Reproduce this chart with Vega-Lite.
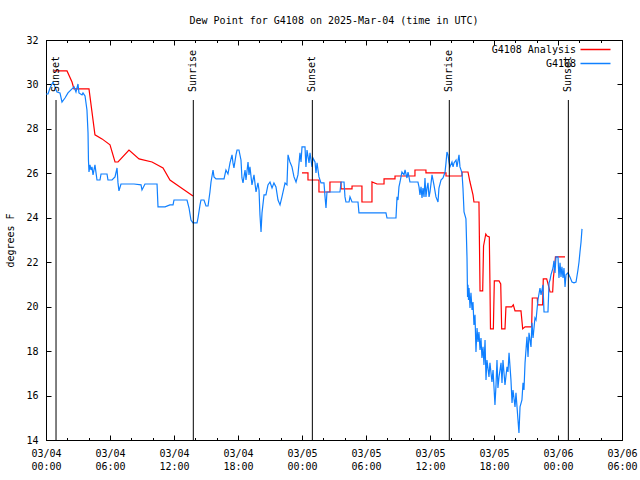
{
  "$schema": "https://vega.github.io/schema/vega-lite/v6.json",
  "width": 576,
  "height": 400,
  "autosize": {"type": "none"},
  "padding": {"left": 46, "top": 40, "right": 18, "bottom": 40},
  "background": "white",
  "title": {"text": "Dew Point for G4108 on 2025-Mar-04 (time in UTC)", "fontSize": 10, "fontWeight": "normal", "font": "DejaVu Sans Mono", "color": "black", "offset": 9, "anchor": "middle"},
  "config": {
    "font": "DejaVu Sans Mono",
    "view": {"stroke": "black", "strokeWidth": 1},
    "axis": {"grid": false, "labelFont": "DejaVu Sans Mono", "labelFontSize": 10, "labelColor": "black", "titleFont": "DejaVu Sans Mono", "titleFontSize": 10, "titleFontWeight": "normal", "titleColor": "black", "tickColor": "black", "domainColor": "black", "labelOverlap": false, "labelFlush": false}
  },
  "datasets": {
    "analysis": [
      {"hours_utc": 0.75, "dewpoint_f": 30.61}, {"hours_utc": 1.97, "dewpoint_f": 30.61}, {"hours_utc": 2.44, "dewpoint_f": 30.11}, {"hours_utc": 2.62, "dewpoint_f": 29.8}, {"hours_utc": 4.03, "dewpoint_f": 29.8},
      {"hours_utc": 4.59, "dewpoint_f": 27.73}, {"hours_utc": 5.25, "dewpoint_f": 27.55}, {"hours_utc": 6.0, "dewpoint_f": 27.28}, {"hours_utc": 6.47, "dewpoint_f": 26.51}, {"hours_utc": 6.75, "dewpoint_f": 26.51},
      {"hours_utc": 7.78, "dewpoint_f": 27.05}, {"hours_utc": 8.72, "dewpoint_f": 26.65}, {"hours_utc": 9.94, "dewpoint_f": 26.51}, {"hours_utc": 10.97, "dewpoint_f": 26.24}, {"hours_utc": 11.62, "dewpoint_f": 25.7},
      {"hours_utc": 12.56, "dewpoint_f": 25.39}, {"hours_utc": 13.78, "dewpoint_f": 24.98},
      {"hours_utc": 19.0, "dewpoint_f": null},
      {"hours_utc": 24.0, "dewpoint_f": 26.02}, {"hours_utc": 24.56, "dewpoint_f": 26.02}, {"hours_utc": 24.56, "dewpoint_f": 25.7}, {"hours_utc": 25.59, "dewpoint_f": 25.7}, {"hours_utc": 25.59, "dewpoint_f": 25.16},
      {"hours_utc": 26.62, "dewpoint_f": 25.16}, {"hours_utc": 26.62, "dewpoint_f": 25.61}, {"hours_utc": 27.66, "dewpoint_f": 25.61}, {"hours_utc": 27.66, "dewpoint_f": 25.3}, {"hours_utc": 28.69, "dewpoint_f": 25.3},
      {"hours_utc": 28.69, "dewpoint_f": 25.43}, {"hours_utc": 29.62, "dewpoint_f": 25.43}, {"hours_utc": 29.62, "dewpoint_f": 24.71}, {"hours_utc": 30.56, "dewpoint_f": 24.71}, {"hours_utc": 30.56, "dewpoint_f": 25.61},
      {"hours_utc": 31.03, "dewpoint_f": 25.52}, {"hours_utc": 31.69, "dewpoint_f": 25.52}, {"hours_utc": 31.69, "dewpoint_f": 25.75}, {"hours_utc": 32.72, "dewpoint_f": 25.75}, {"hours_utc": 32.72, "dewpoint_f": 25.88},
      {"hours_utc": 34.59, "dewpoint_f": 25.88}, {"hours_utc": 34.59, "dewpoint_f": 26.15}, {"hours_utc": 35.62, "dewpoint_f": 26.15}, {"hours_utc": 35.62, "dewpoint_f": 26.02}, {"hours_utc": 37.5, "dewpoint_f": 26.02},
      {"hours_utc": 37.5, "dewpoint_f": 25.88}, {"hours_utc": 39.0, "dewpoint_f": 25.88}, {"hours_utc": 39.0, "dewpoint_f": 26.06}, {"hours_utc": 39.56, "dewpoint_f": 26.06}, {"hours_utc": 39.75, "dewpoint_f": 25.61},
      {"hours_utc": 40.03, "dewpoint_f": 25.03}, {"hours_utc": 40.12, "dewpoint_f": 24.71}, {"hours_utc": 40.59, "dewpoint_f": 24.71}, {"hours_utc": 40.69, "dewpoint_f": 20.71}, {"hours_utc": 40.94, "dewpoint_f": 20.71},
      {"hours_utc": 41.02, "dewpoint_f": 22.73}, {"hours_utc": 41.23, "dewpoint_f": 23.27}, {"hours_utc": 41.35, "dewpoint_f": 23.18}, {"hours_utc": 41.56, "dewpoint_f": 23.14}, {"hours_utc": 41.62, "dewpoint_f": 21.07},
      {"hours_utc": 41.67, "dewpoint_f": 19.0}, {"hours_utc": 41.94, "dewpoint_f": 19.0}, {"hours_utc": 42.03, "dewpoint_f": 21.16}, {"hours_utc": 42.47, "dewpoint_f": 21.16}, {"hours_utc": 42.63, "dewpoint_f": 21.02},
      {"hours_utc": 42.72, "dewpoint_f": 19.0}, {"hours_utc": 43.03, "dewpoint_f": 19.0}, {"hours_utc": 43.12, "dewpoint_f": 19.99}, {"hours_utc": 43.66, "dewpoint_f": 19.99}, {"hours_utc": 43.81, "dewpoint_f": 20.08},
      {"hours_utc": 43.97, "dewpoint_f": 19.81}, {"hours_utc": 44.53, "dewpoint_f": 19.81}, {"hours_utc": 44.69, "dewpoint_f": 19.0}, {"hours_utc": 44.91, "dewpoint_f": 19.09}, {"hours_utc": 45.53, "dewpoint_f": 19.09},
      {"hours_utc": 45.59, "dewpoint_f": 20.39}, {"hours_utc": 46.06, "dewpoint_f": 20.39}, {"hours_utc": 46.09, "dewpoint_f": 20.08}, {"hours_utc": 46.56, "dewpoint_f": 20.08}, {"hours_utc": 46.62, "dewpoint_f": 21.25},
      {"hours_utc": 46.94, "dewpoint_f": 21.25}, {"hours_utc": 47.09, "dewpoint_f": 20.98}, {"hours_utc": 47.25, "dewpoint_f": 20.66}, {"hours_utc": 47.5, "dewpoint_f": 20.66}, {"hours_utc": 47.56, "dewpoint_f": 21.25},
      {"hours_utc": 47.72, "dewpoint_f": 22.0}, {"hours_utc": 47.76, "dewpoint_f": 22.24}, {"hours_utc": 48.66, "dewpoint_f": 22.24}
    ],
    "station": [
      {"hours_utc": 0.0, "dewpoint_f": 29.57}, {"hours_utc": 0.19, "dewpoint_f": 29.57}, {"hours_utc": 0.375, "dewpoint_f": 29.84}, {"hours_utc": 0.66, "dewpoint_f": 30.11}, {"hours_utc": 0.84, "dewpoint_f": 29.89},
      {"hours_utc": 1.03, "dewpoint_f": 29.66}, {"hours_utc": 1.31, "dewpoint_f": 29.62}, {"hours_utc": 1.5, "dewpoint_f": 29.21}, {"hours_utc": 1.78, "dewpoint_f": 29.39}, {"hours_utc": 2.06, "dewpoint_f": 29.62},
      {"hours_utc": 2.44, "dewpoint_f": 29.8}, {"hours_utc": 2.63, "dewpoint_f": 29.89}, {"hours_utc": 2.81, "dewpoint_f": 29.66}, {"hours_utc": 3.0, "dewpoint_f": 30.02}, {"hours_utc": 3.09, "dewpoint_f": 29.62},
      {"hours_utc": 3.375, "dewpoint_f": 29.53}, {"hours_utc": 3.47, "dewpoint_f": 29.62}, {"hours_utc": 3.66, "dewpoint_f": 29.48}, {"hours_utc": 3.84, "dewpoint_f": 28.85}, {"hours_utc": 3.94, "dewpoint_f": 27.82},
      {"hours_utc": 3.98, "dewpoint_f": 26.6}, {"hours_utc": 4.03, "dewpoint_f": 26.06}, {"hours_utc": 4.125, "dewpoint_f": 26.38}, {"hours_utc": 4.22, "dewpoint_f": 26.15}, {"hours_utc": 4.31, "dewpoint_f": 26.29},
      {"hours_utc": 4.41, "dewpoint_f": 25.93}, {"hours_utc": 4.59, "dewpoint_f": 26.38}, {"hours_utc": 4.69, "dewpoint_f": 26.02}, {"hours_utc": 4.78, "dewpoint_f": 25.7}, {"hours_utc": 5.06, "dewpoint_f": 25.7},
      {"hours_utc": 5.16, "dewpoint_f": 25.97}, {"hours_utc": 5.72, "dewpoint_f": 25.97}, {"hours_utc": 5.81, "dewpoint_f": 25.7}, {"hours_utc": 6.19, "dewpoint_f": 25.7}, {"hours_utc": 6.47, "dewpoint_f": 25.84},
      {"hours_utc": 6.66, "dewpoint_f": 26.24}, {"hours_utc": 6.75, "dewpoint_f": 25.57}, {"hours_utc": 6.84, "dewpoint_f": 25.21}, {"hours_utc": 7.03, "dewpoint_f": 25.52}, {"hours_utc": 8.25, "dewpoint_f": 25.52},
      {"hours_utc": 8.91, "dewpoint_f": 25.48}, {"hours_utc": 9.0, "dewpoint_f": 25.25}, {"hours_utc": 9.28, "dewpoint_f": 25.52}, {"hours_utc": 10.41, "dewpoint_f": 25.52}, {"hours_utc": 10.5, "dewpoint_f": 24.49},
      {"hours_utc": 11.16, "dewpoint_f": 24.49}, {"hours_utc": 11.62, "dewpoint_f": 24.58}, {"hours_utc": 11.91, "dewpoint_f": 24.58}, {"hours_utc": 12.0, "dewpoint_f": 24.8}, {"hours_utc": 13.22, "dewpoint_f": 24.8},
      {"hours_utc": 13.41, "dewpoint_f": 24.44}, {"hours_utc": 13.59, "dewpoint_f": 23.9}, {"hours_utc": 13.78, "dewpoint_f": 23.77}, {"hours_utc": 14.16, "dewpoint_f": 23.77}, {"hours_utc": 14.25, "dewpoint_f": 23.99},
      {"hours_utc": 14.44, "dewpoint_f": 24.58}, {"hours_utc": 14.53, "dewpoint_f": 24.8}, {"hours_utc": 14.81, "dewpoint_f": 24.8}, {"hours_utc": 15.0, "dewpoint_f": 24.53}, {"hours_utc": 15.19, "dewpoint_f": 24.53},
      {"hours_utc": 15.37, "dewpoint_f": 25.16}, {"hours_utc": 15.47, "dewpoint_f": 25.61}, {"hours_utc": 15.66, "dewpoint_f": 26.15}, {"hours_utc": 15.75, "dewpoint_f": 25.84}, {"hours_utc": 15.94, "dewpoint_f": 25.75},
      {"hours_utc": 16.69, "dewpoint_f": 25.75}, {"hours_utc": 16.87, "dewpoint_f": 26.15}, {"hours_utc": 17.06, "dewpoint_f": 25.97}, {"hours_utc": 17.25, "dewpoint_f": 26.47}, {"hours_utc": 17.44, "dewpoint_f": 26.83},
      {"hours_utc": 17.53, "dewpoint_f": 26.47}, {"hours_utc": 17.62, "dewpoint_f": 26.24}, {"hours_utc": 17.81, "dewpoint_f": 26.83}, {"hours_utc": 17.91, "dewpoint_f": 27.05}, {"hours_utc": 18.09, "dewpoint_f": 27.05},
      {"hours_utc": 18.28, "dewpoint_f": 26.6}, {"hours_utc": 18.37, "dewpoint_f": 25.79}, {"hours_utc": 18.47, "dewpoint_f": 25.57}, {"hours_utc": 18.66, "dewpoint_f": 26.15}, {"hours_utc": 18.75, "dewpoint_f": 25.7},
      {"hours_utc": 18.94, "dewpoint_f": 26.51}, {"hours_utc": 19.03, "dewpoint_f": 25.93}, {"hours_utc": 19.12, "dewpoint_f": 26.29}, {"hours_utc": 19.31, "dewpoint_f": 25.48}, {"hours_utc": 19.5, "dewpoint_f": 25.93},
      {"hours_utc": 19.69, "dewpoint_f": 25.16}, {"hours_utc": 19.87, "dewpoint_f": 25.57}, {"hours_utc": 19.97, "dewpoint_f": 25.25}, {"hours_utc": 20.06, "dewpoint_f": 24.13}, {"hours_utc": 20.16, "dewpoint_f": 23.36},
      {"hours_utc": 20.25, "dewpoint_f": 24.22}, {"hours_utc": 20.44, "dewpoint_f": 25.03}, {"hours_utc": 20.62, "dewpoint_f": 25.03}, {"hours_utc": 20.81, "dewpoint_f": 25.48}, {"hours_utc": 21.0, "dewpoint_f": 25.61},
      {"hours_utc": 21.19, "dewpoint_f": 25.34}, {"hours_utc": 21.37, "dewpoint_f": 25.57}, {"hours_utc": 21.56, "dewpoint_f": 25.39}, {"hours_utc": 21.75, "dewpoint_f": 24.8}, {"hours_utc": 21.94, "dewpoint_f": 24.58},
      {"hours_utc": 22.12, "dewpoint_f": 24.94}, {"hours_utc": 22.41, "dewpoint_f": 25.57}, {"hours_utc": 22.59, "dewpoint_f": 25.48}, {"hours_utc": 22.69, "dewpoint_f": 26.83}, {"hours_utc": 22.87, "dewpoint_f": 26.51},
      {"hours_utc": 23.06, "dewpoint_f": 26.29}, {"hours_utc": 23.25, "dewpoint_f": 25.84}, {"hours_utc": 23.44, "dewpoint_f": 25.61}, {"hours_utc": 23.62, "dewpoint_f": 25.93}, {"hours_utc": 23.81, "dewpoint_f": 26.92},
      {"hours_utc": 23.91, "dewpoint_f": 26.51}, {"hours_utc": 24.0, "dewpoint_f": 27.19}, {"hours_utc": 24.28, "dewpoint_f": 27.19}, {"hours_utc": 24.37, "dewpoint_f": 26.29}, {"hours_utc": 24.47, "dewpoint_f": 27.05},
      {"hours_utc": 24.66, "dewpoint_f": 26.47}, {"hours_utc": 24.75, "dewpoint_f": 26.92}, {"hours_utc": 24.94, "dewpoint_f": 26.29}, {"hours_utc": 25.03, "dewpoint_f": 26.69}, {"hours_utc": 25.22, "dewpoint_f": 26.51},
      {"hours_utc": 25.31, "dewpoint_f": 26.02}, {"hours_utc": 25.41, "dewpoint_f": 26.47}, {"hours_utc": 25.59, "dewpoint_f": 25.84}, {"hours_utc": 25.78, "dewpoint_f": 25.57}, {"hours_utc": 26.06, "dewpoint_f": 25.57},
      {"hours_utc": 26.16, "dewpoint_f": 24.94}, {"hours_utc": 26.25, "dewpoint_f": 24.44}, {"hours_utc": 26.34, "dewpoint_f": 25.16}, {"hours_utc": 27.56, "dewpoint_f": 25.16}, {"hours_utc": 27.66, "dewpoint_f": 25.61},
      {"hours_utc": 27.94, "dewpoint_f": 25.61}, {"hours_utc": 28.03, "dewpoint_f": 24.94}, {"hours_utc": 28.12, "dewpoint_f": 24.71}, {"hours_utc": 28.41, "dewpoint_f": 24.71}, {"hours_utc": 28.5, "dewpoint_f": 24.94},
      {"hours_utc": 28.69, "dewpoint_f": 24.71}, {"hours_utc": 29.25, "dewpoint_f": 24.71}, {"hours_utc": 29.34, "dewpoint_f": 24.22}, {"hours_utc": 31.87, "dewpoint_f": 24.22}, {"hours_utc": 31.97, "dewpoint_f": 23.99},
      {"hours_utc": 32.81, "dewpoint_f": 23.99}, {"hours_utc": 32.91, "dewpoint_f": 24.94}, {"hours_utc": 33.0, "dewpoint_f": 24.8}, {"hours_utc": 33.09, "dewpoint_f": 25.39}, {"hours_utc": 33.19, "dewpoint_f": 25.61},
      {"hours_utc": 33.28, "dewpoint_f": 25.84}, {"hours_utc": 33.37, "dewpoint_f": 26.06}, {"hours_utc": 33.56, "dewpoint_f": 25.93}, {"hours_utc": 33.66, "dewpoint_f": 26.15}, {"hours_utc": 33.84, "dewpoint_f": 25.79},
      {"hours_utc": 33.94, "dewpoint_f": 26.06}, {"hours_utc": 34.03, "dewpoint_f": 25.84}, {"hours_utc": 34.12, "dewpoint_f": 25.61}, {"hours_utc": 34.87, "dewpoint_f": 25.61}, {"hours_utc": 34.97, "dewpoint_f": 25.39},
      {"hours_utc": 35.06, "dewpoint_f": 25.03}, {"hours_utc": 35.16, "dewpoint_f": 25.39}, {"hours_utc": 35.25, "dewpoint_f": 24.89}, {"hours_utc": 35.34, "dewpoint_f": 25.34}, {"hours_utc": 35.44, "dewpoint_f": 24.94},
      {"hours_utc": 35.53, "dewpoint_f": 25.79}, {"hours_utc": 35.62, "dewpoint_f": 24.94}, {"hours_utc": 35.72, "dewpoint_f": 25.34}, {"hours_utc": 35.81, "dewpoint_f": 25.57}, {"hours_utc": 35.91, "dewpoint_f": 24.94},
      {"hours_utc": 36.0, "dewpoint_f": 25.16}, {"hours_utc": 36.19, "dewpoint_f": 25.93}, {"hours_utc": 36.37, "dewpoint_f": 25.48}, {"hours_utc": 36.56, "dewpoint_f": 24.94}, {"hours_utc": 36.75, "dewpoint_f": 24.71},
      {"hours_utc": 36.84, "dewpoint_f": 25.34}, {"hours_utc": 37.03, "dewpoint_f": 25.7}, {"hours_utc": 37.22, "dewpoint_f": 25.79}, {"hours_utc": 37.41, "dewpoint_f": 26.06}, {"hours_utc": 37.5, "dewpoint_f": 26.47},
      {"hours_utc": 37.59, "dewpoint_f": 26.96}, {"hours_utc": 37.69, "dewpoint_f": 26.83}, {"hours_utc": 37.78, "dewpoint_f": 26.51}, {"hours_utc": 37.87, "dewpoint_f": 26.29}, {"hours_utc": 38.06, "dewpoint_f": 26.51},
      {"hours_utc": 38.16, "dewpoint_f": 26.29}, {"hours_utc": 38.25, "dewpoint_f": 26.47}, {"hours_utc": 38.44, "dewpoint_f": 26.6}, {"hours_utc": 38.53, "dewpoint_f": 26.29}, {"hours_utc": 38.72, "dewpoint_f": 26.83},
      {"hours_utc": 38.81, "dewpoint_f": 26.29}, {"hours_utc": 39.0, "dewpoint_f": 26.02}, {"hours_utc": 39.09, "dewpoint_f": 25.34}, {"hours_utc": 39.19, "dewpoint_f": 24.26}, {"hours_utc": 39.37, "dewpoint_f": 23.95},
      {"hours_utc": 39.47, "dewpoint_f": 22.19}, {"hours_utc": 39.52, "dewpoint_f": 20.44}, {"hours_utc": 39.56, "dewpoint_f": 20.98}, {"hours_utc": 39.61, "dewpoint_f": 20.3}, {"hours_utc": 39.66, "dewpoint_f": 20.84},
      {"hours_utc": 39.75, "dewpoint_f": 19.94}, {"hours_utc": 39.84, "dewpoint_f": 20.62}, {"hours_utc": 39.94, "dewpoint_f": 19.85}, {"hours_utc": 40.03, "dewpoint_f": 20.21}, {"hours_utc": 40.12, "dewpoint_f": 19.18},
      {"hours_utc": 40.22, "dewpoint_f": 19.63}, {"hours_utc": 40.31, "dewpoint_f": 17.96}, {"hours_utc": 40.41, "dewpoint_f": 19.04}, {"hours_utc": 40.5, "dewpoint_f": 18.41}, {"hours_utc": 40.59, "dewpoint_f": 18.86},
      {"hours_utc": 40.69, "dewpoint_f": 18.05}, {"hours_utc": 40.78, "dewpoint_f": 18.59}, {"hours_utc": 40.87, "dewpoint_f": 17.69}, {"hours_utc": 40.97, "dewpoint_f": 18.19}, {"hours_utc": 41.06, "dewpoint_f": 17.38},
      {"hours_utc": 41.16, "dewpoint_f": 18.5}, {"hours_utc": 41.25, "dewpoint_f": 16.7}, {"hours_utc": 41.34, "dewpoint_f": 17.6}, {"hours_utc": 41.53, "dewpoint_f": 16.84}, {"hours_utc": 41.62, "dewpoint_f": 17.47},
      {"hours_utc": 41.81, "dewpoint_f": 16.61}, {"hours_utc": 41.91, "dewpoint_f": 17.15}, {"hours_utc": 42.09, "dewpoint_f": 15.58}, {"hours_utc": 42.19, "dewpoint_f": 16.48}, {"hours_utc": 42.28, "dewpoint_f": 17.6},
      {"hours_utc": 42.37, "dewpoint_f": 16.34}, {"hours_utc": 42.47, "dewpoint_f": 16.84}, {"hours_utc": 42.66, "dewpoint_f": 17.47}, {"hours_utc": 42.75, "dewpoint_f": 16.57}, {"hours_utc": 42.84, "dewpoint_f": 17.6},
      {"hours_utc": 43.03, "dewpoint_f": 16.48}, {"hours_utc": 43.22, "dewpoint_f": 17.29}, {"hours_utc": 43.31, "dewpoint_f": 17.06}, {"hours_utc": 43.41, "dewpoint_f": 17.92}, {"hours_utc": 43.59, "dewpoint_f": 16.7},
      {"hours_utc": 43.69, "dewpoint_f": 15.67}, {"hours_utc": 43.78, "dewpoint_f": 16.25}, {"hours_utc": 43.97, "dewpoint_f": 15.49}, {"hours_utc": 44.06, "dewpoint_f": 16.12}, {"hours_utc": 44.25, "dewpoint_f": 14.9},
      {"hours_utc": 44.34, "dewpoint_f": 14.32}, {"hours_utc": 44.44, "dewpoint_f": 15.49}, {"hours_utc": 44.62, "dewpoint_f": 15.8}, {"hours_utc": 44.72, "dewpoint_f": 16.57}, {"hours_utc": 44.81, "dewpoint_f": 16.25},
      {"hours_utc": 44.91, "dewpoint_f": 17.47}, {"hours_utc": 45.09, "dewpoint_f": 18.64}, {"hours_utc": 45.19, "dewpoint_f": 17.74}, {"hours_utc": 45.28, "dewpoint_f": 18.82}, {"hours_utc": 45.47, "dewpoint_f": 18.19},
      {"hours_utc": 45.56, "dewpoint_f": 19.27}, {"hours_utc": 45.66, "dewpoint_f": 18.59}, {"hours_utc": 45.84, "dewpoint_f": 19.49}, {"hours_utc": 45.94, "dewpoint_f": 19.4}, {"hours_utc": 46.03, "dewpoint_f": 19.85},
      {"hours_utc": 46.12, "dewpoint_f": 20.3}, {"hours_utc": 46.31, "dewpoint_f": 20.84}, {"hours_utc": 46.41, "dewpoint_f": 20.53}, {"hours_utc": 46.59, "dewpoint_f": 20.98}, {"hours_utc": 46.69, "dewpoint_f": 19.76},
      {"hours_utc": 47.06, "dewpoint_f": 19.76}, {"hours_utc": 47.16, "dewpoint_f": 21.07}, {"hours_utc": 47.25, "dewpoint_f": 21.2}, {"hours_utc": 47.34, "dewpoint_f": 21.43}, {"hours_utc": 47.53, "dewpoint_f": 21.74},
      {"hours_utc": 47.62, "dewpoint_f": 22.06}, {"hours_utc": 47.72, "dewpoint_f": 21.52}, {"hours_utc": 47.81, "dewpoint_f": 22.24}, {"hours_utc": 48.0, "dewpoint_f": 22.24}, {"hours_utc": 48.09, "dewpoint_f": 21.29},
      {"hours_utc": 48.19, "dewpoint_f": 21.97}, {"hours_utc": 48.28, "dewpoint_f": 21.34}, {"hours_utc": 48.37, "dewpoint_f": 21.79}, {"hours_utc": 48.47, "dewpoint_f": 21.29}, {"hours_utc": 48.56, "dewpoint_f": 21.74},
      {"hours_utc": 48.66, "dewpoint_f": 20.89}, {"hours_utc": 48.75, "dewpoint_f": 21.43}, {"hours_utc": 48.94, "dewpoint_f": 21.52}, {"hours_utc": 49.12, "dewpoint_f": 21.34}, {"hours_utc": 49.31, "dewpoint_f": 21.11},
      {"hours_utc": 49.5, "dewpoint_f": 21.07}, {"hours_utc": 49.69, "dewpoint_f": 21.11}, {"hours_utc": 49.87, "dewpoint_f": 21.65}, {"hours_utc": 49.97, "dewpoint_f": 22.01}, {"hours_utc": 50.06, "dewpoint_f": 22.46},
      {"hours_utc": 50.16, "dewpoint_f": 22.91}, {"hours_utc": 50.25, "dewpoint_f": 23.5}
    ],
    "sun": [
      {"event": "Sunset", "hours_utc": 0.94},
      {"event": "Sunrise", "hours_utc": 13.81},
      {"event": "Sunset", "hours_utc": 24.97},
      {"event": "Sunrise", "hours_utc": 37.81},
      {"event": "Sunset", "hours_utc": 48.97}
    ]
  },
  "layer": [
    {
      "data": {"name": "analysis"},
      "mark": {"type": "line", "strokeWidth": 1.2, "invalid": "break-paths-show-domains", "clip": true},
      "encoding": {
        "x": {"field": "hours_utc", "type": "quantitative", "scale": {"domain": [0, 54], "nice": false, "zero": false},
          "axis": {"orient": "bottom", "title": null, "values": [0, 6, 12, 18, 24, 30, 36, 42, 48, 54], "tickSize": -5, "labelPadding": 13, "domain": true,
            "labelExpr": "['03/0' + (4 + floor(datum.value / 24)), (datum.value % 24 < 10 ? '0' : '') + (datum.value % 24) + ':00']", "labelLineHeight": 13, "labelBaseline": "top"}},
        "y": {"field": "dewpoint_f", "type": "quantitative", "scale": {"domain": [14, 32], "nice": false, "zero": false},
          "axis": {"orient": "left", "title": "degrees F", "values": [14, 16, 18, 20, 22, 24, 26, 28, 30, 32], "tickSize": -5, "labelPadding": 13, "titlePadding": 10, "domain": true}},
        "color": {"datum": "G4108 Analysis", "type": "nominal",
          "scale": {"domain": ["G4108 Analysis", "G4108"], "range": ["#ff0000", "#1080ff"]},
          "legend": {"orient": "none", "legendX": 543.5, "legendY": 3.5, "title": null, "symbolType": "M-3,0H3", "symbolSize": 100, "symbolStrokeWidth": 1.5, "symbolFillColor": "transparent", "labelAlign": "right", "labelOffset": -25.5, "labelFontSize": 10, "labelFont": "DejaVu Sans Mono", "labelColor": "black", "rowPadding": 3, "padding": 0}}
      }
    },
    {
      "data": {"name": "station"},
      "mark": {"type": "line", "strokeWidth": 1.2, "clip": true},
      "encoding": {
        "x": {"field": "hours_utc", "type": "quantitative", "scale": {"domain": [0, 54], "nice": false, "zero": false},
          "axis": {"orient": "top", "title": null, "values": [0, 6, 12, 18, 24, 30, 36, 42, 48, 54], "tickSize": -5, "labels": false, "domain": true}},
        "y": {"field": "dewpoint_f", "type": "quantitative", "scale": {"domain": [14, 32], "nice": false, "zero": false},
          "axis": {"orient": "right", "title": null, "values": [14, 16, 18, 20, 22, 24, 26, 28, 30, 32], "tickSize": -5, "labels": false, "domain": true}},
        "color": {"datum": "G4108", "type": "nominal"}
      }
    },
    {
      "data": {"name": "sun"},
      "mark": {"type": "rule", "color": "black", "strokeWidth": 1},
      "encoding": {
        "x": {"field": "hours_utc", "type": "quantitative", "scale": {"domain": [0, 54], "nice": false, "zero": false},
          "axis": {"orient": "bottom", "title": null, "values": [2, 4, 8, 10, 14, 16, 20, 22, 26, 28, 32, 34, 38, 40, 44, 46, 50, 52], "tickSize": -2.5, "labels": false, "domain": false}},
        "y": {"datum": 14, "type": "quantitative", "scale": {"domain": [14, 32], "nice": false, "zero": false}, "axis": null},
        "y2": {"datum": 29.3}
      }
    },
    {
      "data": {"name": "sun"},
      "mark": {"type": "text", "angle": 270, "align": "left", "baseline": "middle", "font": "DejaVu Sans Mono", "fontSize": 10, "color": "black"},
      "encoding": {
        "x": {"field": "hours_utc", "type": "quantitative", "scale": {"domain": [0, 54], "nice": false, "zero": false},
          "axis": {"orient": "top", "title": null, "values": [2, 4, 8, 10, 14, 16, 20, 22, 26, 28, 32, 34, 38, 40, 44, 46, 50, 52], "tickSize": -2.5, "labels": false, "domain": false}},
        "y": {"datum": 29.66, "type": "quantitative", "scale": {"domain": [14, 32], "nice": false, "zero": false}, "axis": null},
        "text": {"field": "event"}
      }
    }
  ],
  "resolve": {"axis": {"x": "independent", "y": "independent"}}
}
